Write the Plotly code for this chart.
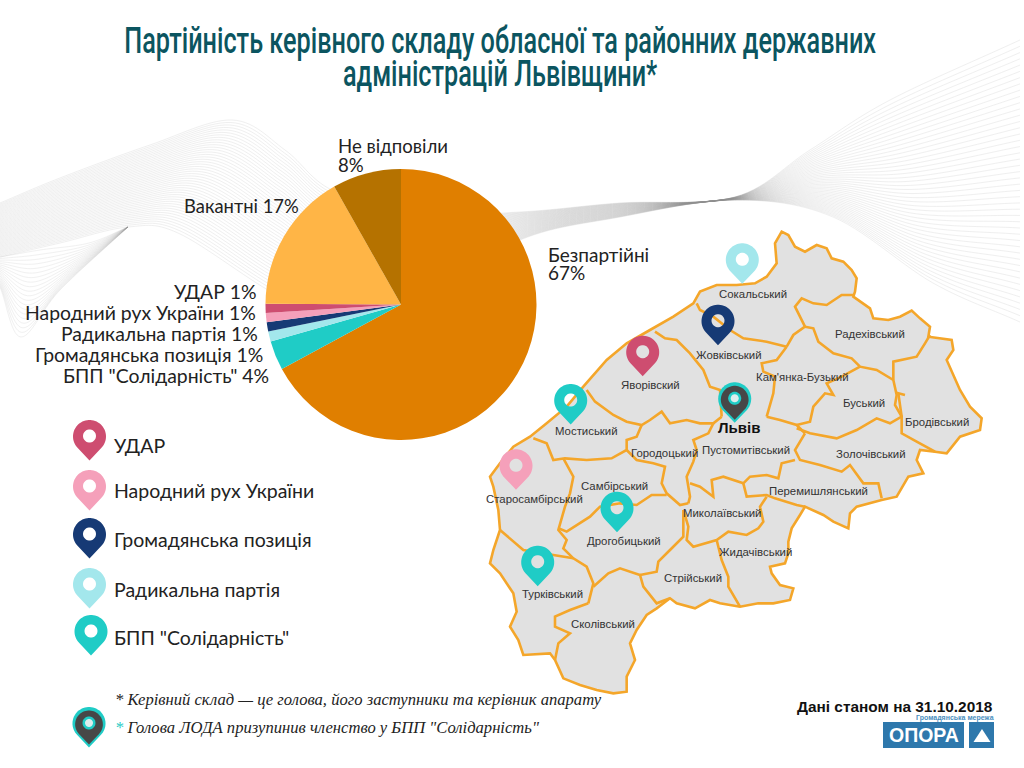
import numpy as np
import plotly.graph_objects as go

# ---------- data ----------
slice_names = ["Безпартійні", 'БПП "Солідарність"', "Радикальна партія", "Громадянська позиція",
               "Народний рух України", "УДАР", "Вакантні", "Не відповіли"]
slice_values = [67.1, 3.5, 1.2, 1.1, 1.1, 1.1, 16.7, 8.2]
slice_percent = [67, 4, 1, 1, 1, 1, 17, 8]
slice_colors = ["#E07F00", "#1FCCC6", "#A3E7EC", "#163A75", "#F5A0BA", "#CE4D70", "#FFB546", "#B57200"]

title_lines = ["Партійність керівного складу обласної та районних державних",
               "адміністрацій Львівщини*"]
legend_names = ["УДАР", "Народний рух України", "Громадянська позиція", "Радикальна партія", 'БПП "Солідарність"']
legend_colors = ["#CE4D70", "#F5A0BA", "#163A75", "#A3E7EC", "#1FCCC6"]
district_names = ["Сокальський", "Радехівський", "Жовківський", "Кам'янка-Бузький", "Яворівский", "Буський",
                  "Бродівський", "Мостиський", "Городоцький", "Пустомитівський", "Золочівський", "Самбірський",
                  "Перемишлянський", "Старосамбірський", "Миколаївський", "Дрогобицький", "Жидачівський",
                  "Стрійський", "Турківський", "Сколівський"]
note_1 = "* Керівний склад — це голова, його заступники та керівник апарату"
note_2 = 'Голова ЛОДА призупинив членство у БПП "Солідарність"'
date_note = "Дані станом на 31.10.2018"

# ---------- drawing helpers (decorative picture geometry, in page pixels) ----------
W, H = 1024, 768
LABEL_FONT = "Lato"
TITLE_FONT = "Roboto"
fx = lambda x: x / W
fy = lambda y: 1 - y / H

def path(points, close=False):
    s = "M" + " L".join(f"{fx(x):.5f},{fy(y):.5f}" for x, y in points)
    return s + (" Z" if close else "")

def catmull(points, n=14):
    p = np.array(points, float)
    p = np.vstack([2 * p[0] - p[1], p, 2 * p[-1] - p[-2]])
    out = []
    for i in range(1, len(p) - 2):
        for t in np.linspace(0, 1, n, endpoint=False):
            a, b, c, d = p[i - 1], p[i], p[i + 1], p[i + 2]
            out.append(0.5 * (2 * b + (c - a) * t + (2 * a - 5 * b + 4 * c - d) * t ** 2 + (3 * b - a - 3 * c + d) * t ** 3))
    out.append(p[-2])
    return np.array(out)

shapes = []
def wave(top, bottom, count, color, width, opacity):
    a, b = catmull(top), catmull(bottom)
    for k in np.linspace(0, 1, count):
        shapes.append(dict(type="path", xref="paper", yref="paper", layer="below", path=path((1 - k) * a + k * b),
                           line=dict(color=color, width=width), opacity=opacity, fillcolor="rgba(0,0,0,0)"))

wave([(0, 203), (60, 178), (150, 145), (232, 120), (285, 150), (328, 188), (400, 215), (520, 212), (620, 203),
      (735, 197), (810, 150), (890, 100), (1020, 40)],
     [(0, 257), (60, 243), (128, 227), (178, 233), (268, 290), (330, 320), (420, 300), (520, 240), (620, 217),
      (735, 200), (833, 217), (933, 283), (1020, 322)], 46, "#8e8e8e", 0.5, 0.27)
wave([(0, 257), (40, 250), (89, 243), (128, 227)], [(0, 287), (21, 337), (60, 290), (128, 227)], 20, "#8e8e8e", 0.5, 0.25)

Z = lambda pts: [(480 + x / 3, 220 + y / 3) for x, y in pts]
outer = [(905,35),(925,45),(945,80),(975,95),(1010,75),(1040,85),(1055,115),(1090,125),(1115,150),(1130,175),(1125,215),(1120,230),
         (1170,265),(1180,295),(1225,300),(1260,290),(1295,272),(1320,295),(1350,320),(1345,350),(1415,360),(1420,390),(1400,420),
         (1420,465),(1440,510),(1470,560),(1505,595),(1500,630),(1440,650),(1400,700),(1365,695),(1320,690),(1310,720),(1330,760),
         (1285,770),(1250,830),(1205,840),(1130,860),(1110,880),(1105,925),(1060,905),(1030,885),(975,860),(960,885),(935,925),
         (925,965),(925,1000),(915,1030),(870,1040),(875,1060),(900,1095),(940,1105),(930,1140),(880,1150),(835,1150),(780,1160),
         (720,1150),(690,1140),(645,1165),(590,1150),(570,1135),(530,1165),(500,1185),(470,1230),(450,1270),(465,1320),(440,1370),
         (440,1415),(400,1420),(350,1410),(300,1395),(250,1375),(225,1320),(210,1300),(130,1305),(115,1260),(90,1220),(110,1175),
         (100,1120),(60,1060),(30,1030),(40,990),(60,930),(55,870),(40,800),(30,770),(60,730),(100,680),(150,650),(200,610),
         (260,560),(310,500),(380,420),(440,370),(510,330),(580,290),(640,250),(660,215),(710,195),(770,195),(825,190),(860,170),
         (890,130),(885,70)]
inner = [
 [(650,250),(660,270),(700,290),(750,330),(790,355),(860,365),(920,380)],
 [(920,380),(940,345),(975,320),(945,260),(965,235),(1000,250),(1040,255),(1085,225),(1120,225)],
 [(975,320),(1000,325),(1015,365),(1060,400),(1115,415),(1140,440),(1190,450),(1240,480)],
 [(1240,480),(1240,425),(1310,410),(1335,370),(1350,345)],
 [(920,380),(890,420),(845,430),(850,455),(885,470),(880,520),(860,590)],
 [(525,335),(555,355),(590,360),(630,400),(670,450),(690,500),(720,510),(725,590)],
 [(320,510),(345,545),(400,585),(440,605),(485,615),(510,600),(545,575),(570,610),(620,600),(660,610),(700,610),(725,590)],
 [(860,590),(900,600),(950,615),(975,640)],
 [(1140,440),(1085,470),(1040,490),(1060,525),(1035,520),(1000,560),(990,605),(950,615)],
 [(950,625),(990,640),(1070,655),(1130,630),(1190,595),(1230,610),(1265,590),(1255,520),(1275,525)],
 [(1240,480),(1250,525),(1245,555),(1265,590),(1265,640),(1310,665),(1365,695)],
 [(975,640),(945,690),(960,720),(1020,735),(1085,755),(1110,735),(1150,790),(1195,790),(1205,835)],
 [(945,720),(905,730),(895,775),(860,765),(810,770),(790,790),(800,830),(860,825),(885,835),(950,855),(975,860)],
 [(700,610),(685,640),(640,660),(650,690),(640,725),(620,770),(630,830),(625,850)],
 [(485,615),(470,650),(440,660),(440,690),(395,715),(320,720),(255,715),(220,720),(200,670),(160,655)],
 [(440,690),(470,720),(520,730),(555,740),(545,790),(560,820),(600,855),(625,850)],
 [(630,790),(660,800),(700,830),(695,780),(730,770),(790,790)],
 [(610,870),(625,920),(620,960),(640,980),(710,960),(745,935),(800,945),(835,925),(850,905),(840,860),(860,830)],
 [(250,715),(280,770),(270,820),(255,860),(235,930),(260,960),(250,985),(280,1015),(320,1040),(340,1090),(325,1150)],
 [(235,925),(260,935),(330,890),(360,860),(420,850),(470,855),(515,825),(560,825)],
 [(610,870),(610,950),(570,990),(535,1025),(530,1055),(480,1065)],
 [(340,1100),(385,1060),(420,1045),(480,1065),(490,1100),(530,1150),(570,1135)],
 [(710,960),(725,1020),(745,1070),(745,1100),(780,1160)],
 [(60,930),(130,990),(220,1005),(280,1015)],
 [(325,1150),(270,1170),(225,1190),(225,1220),(270,1240),(235,1270),(225,1320)],
]
MAP_LINE = "#F4A62A"
shapes.append(dict(type="path", xref="paper", yref="paper", layer="below", path=path(Z(outer), True),
                   fillcolor="#E1E1E1", line=dict(color=MAP_LINE, width=2.6)))
for seg in inner:
    shapes.append(dict(type="path", xref="paper", yref="paper", layer="below", path=path(Z(seg)),
                       fillcolor="rgba(0,0,0,0)", line=dict(color=MAP_LINE, width=2.6)))

def pin_points(cx, top, scale=1.0):
    r, tip = 16.5 * scale, 40.5 * scale
    cy = top + r
    h = tip - r
    ang = np.arccos(r / h)
    th = np.linspace(np.pi / 2 + ang, 2.5 * np.pi - ang, 48)
    pts = [(cx, top + tip)] + [(cx + r * np.cos(t), cy + r * np.sin(t)) for t in th]
    return pts

def circle_points(cx, cy, r):
    return [(cx + r * np.cos(t), cy + r * np.sin(t)) for t in np.linspace(0, 2 * np.pi, 30, endpoint=False)]

def add_pin(cx, top, color, hole_r=6.5):
    d = path(pin_points(cx, top), True) + " " + path(circle_points(cx, top + 16, hole_r), True)
    shapes.append(dict(type="path", xref="paper", yref="paper", layer="below", path=d, fillcolor=color,
                       fillrule="evenodd", line=dict(width=0)))

def add_dark_pin(cx, top):
    shapes.append(dict(type="path", xref="paper", yref="paper", layer="below", path=path(pin_points(cx, top), True),
                       fillcolor="#1FCCC6", line=dict(width=0)))
    shapes.append(dict(type="path", xref="paper", yref="paper", layer="below",
                       path=path(pin_points(cx, top + 3.5, 0.84), True), fillcolor="#474747", line=dict(width=0)))
    shapes.append(dict(type="path", xref="paper", yref="paper", layer="below",
                       path=path(circle_points(cx, top + 16, 6.5), True), fillcolor="#1FCCC6", line=dict(width=0)))
    shapes.append(dict(type="path", xref="paper", yref="paper", layer="below",
                       path=path(circle_points(cx, top + 16, 4), True), fillcolor="#DDEEEE", line=dict(width=0)))

for (cx, top), c in zip([(89.5, 420), (89.5, 470), (89.5, 518), (89.5, 568), (91, 615)], legend_colors):
    add_pin(cx, top, c)
add_dark_pin(89, 707)
for cx, top, c in [(742.3, 243.3, "#A3E7EC"), (718, 304.7, "#163A75"), (642.7, 335.7, "#CE4D70"),
                   (570.7, 384, "#1FCCC6"), (516, 449.3, "#F5A0BA"), (617, 491.7, "#1FCCC6"), (537.7, 545.7, "#1FCCC6")]:
    add_pin(cx, top, c)
add_dark_pin(734.7, 382.3)

# logo
for x0, x1 in [(883, 964), (969, 994)]:
    shapes.append(dict(type="rect", xref="paper", yref="paper", layer="below", x0=fx(x0), x1=fx(x1), y0=fy(748), y1=fy(722),
                       fillcolor="#2E78AC", line=dict(width=0)))
shapes.append(dict(type="path", xref="paper", yref="paper", layer="below",
                   path=path([(982, 729), (990.5, 742), (973.5, 742)], True), fillcolor="white", line=dict(width=0)))

annotations = []
def text(x, y, s, size, font=LABEL_FONT, color="#222222", anchor="left", weight=None):
    f = dict(family=font, size=size, color=color)
    if weight:
        f["weight"] = weight
    annotations.append(dict(xref="paper", yref="paper", x=fx(x), y=fy(y), text=s, showarrow=False, xanchor=anchor,
                            yanchor="middle", align=anchor, font=f, borderpad=0, borderwidth=0))

text(500, 64, "<br>".join(title_lines), 36, TITLE_FONT, "#0B5560", "center", 500)

LS = 19.4
text(338, 158.4, f"{slice_names[7]}<br>{slice_percent[7]}%", 18.6)
text(299, 206, f"{slice_names[6]} {slice_percent[6]}%", 18.4, anchor="right")
text(548, 267.4, f"{slice_names[0]}<br>{slice_percent[0]}%", 19)
for i, (x, y) in zip([5, 4, 2, 3, 1], [(256.5, 291), (256, 313), (258, 334), (262.5, 355), (268.5, 376)]):
    text(x, y, f"{slice_names[i]} {slice_percent[i]}%", LS, anchor="right")

for name, (x, y) in zip(legend_names, [(114, 445), (114, 490.7), (114, 539), (114, 589), (114, 637)]):
    text(x, y, name, 19.5)

district_xy = [(752.7,294),(870,333.7),(729.3,355),(802.7,376.7),(650,385),(864,403.3),(937.3,421.7),(586,431),
               (664.3,453.3),(745.7,450.3),(871,454.3),(614.3,486),(818.3,491.3),(534,499.3),(722,512.7),(624.3,540.7),
               (755.3,552),(693.3,578.3),(552.3,594),(602.7,624)]
for name, (x, y) in zip(district_names, district_xy):
    text(x, y, name, 11.4, "Liberation Sans", "#333333", "center")
text(738.7, 427.3, "<b>Львів</b>", 15, "Liberation Sans", "#111111", "center")

text(115, 699, f"<i>{note_1}</i>", 16.6, "Liberation Serif", "#222222")
text(115, 727.7, f"<i><span style='color:#1FCCC6'>*</span> {note_2}</i>", 16.6, "Liberation Serif", "#222222")
text(993, 706, f"<b>{date_note}</b>", 15.4, "Liberation Sans", "#111111", "right")
text(994, 717.5, "<b>Громадянська мережа</b>", 7, "Liberation Sans", "#4A8FC0", "right")
text(923.5, 735, "<b>ОПОРА</b>", 19.5, "Liberation Sans", "white", "center")

# ---------- figure ----------
cx, cy, R = 401, 304.5, 135.5
fig = go.Figure(go.Pie(
    labels=slice_names, values=slice_values, sort=False, direction="clockwise", rotation=0,
    marker=dict(colors=slice_colors, line=dict(width=0)),
    textinfo="none", hoverinfo="skip", showlegend=False,
    domain=dict(x=[fx(cx - R), fx(cx + R)], y=[fy(cy + R), fy(cy - R)]),
))
fig.update_layout(width=W, height=H, margin=dict(l=0, r=0, t=0, b=0), paper_bgcolor="white", plot_bgcolor="white",
                  shapes=shapes, annotations=annotations, showlegend=False)
# tighten line spacing of two-line texts, and condense the title to its measured width
post = """
document.body.style.margin='0';document.documentElement.style.overflow='hidden';
document.querySelectorAll('.annotation-text').forEach(function(t){
  var s=t.textContent, lines=t.querySelectorAll('tspan.line');
  if(lines.length<2) return;
  var title=s.indexOf('Партійність')===0;
  var lh=title?0.917:(s.indexOf('Не ')===0?1.02:0.95);
  lines.forEach(function(l,i){l.setAttribute('dy',(i*lh)+'em');});
  if(title){
    var w=lines[0].getComputedTextLength(), k=752/w, x=parseFloat(t.getAttribute('x'))||0;
    t.setAttribute('transform','translate('+x+',0) scale('+k+',1) translate('+(-x)+',0)');
  }
});
"""
fig.write_html("out.html", config=dict(displayModeBar=False), post_script=post)
